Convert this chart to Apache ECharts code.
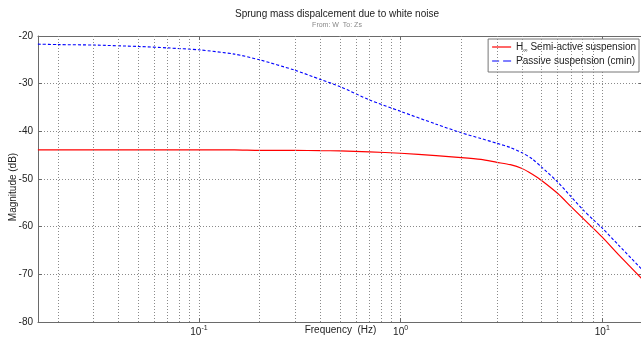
<!DOCTYPE html>
<html><head><meta charset="utf-8">
<script src="https://cdn.jsdelivr.net/npm/echarts@6/dist/echarts.min.js"></script>
<style>html,body{margin:0;padding:0;background:#fff}#c{width:641px;height:338px}</style>
</head><body><div id="c"></div>
<script>
const freqHz = [0.0159, 0.02, 0.03, 0.05, 0.07, 0.1, 0.15, 0.2, 0.3, 0.4, 0.5, 0.7, 1, 1.5, 2, 2.5, 3, 3.5, 4, 4.5, 5, 6, 7, 8, 9, 10, 12, 15.92];
const passiveDb = [-21.7, -21.8, -21.9, -22.2, -22.5, -22.9, -23.8, -25.0, -27.2, -29.1, -30.6, -33.4, -35.8, -38.5, -40.3, -41.5, -42.5, -43.4, -44.5, -45.8, -47.5, -50.6, -53.7, -56.4, -58.5, -60.3, -63.8, -69.2];
const semiActiveDb = [-43.9, -43.9, -43.9, -43.9, -43.9, -43.9, -43.9, -44.0, -44.0, -44.05, -44.1, -44.3, -44.6, -45.1, -45.5, -45.9, -46.5, -47.0, -47.8, -49.0, -50.3, -53.0, -55.8, -58.2, -60.3, -62.2, -65.8, -71.2];
const minorGridFreqs = [0.02,0.03,0.04,0.05,0.06,0.07,0.08,0.09,0.2,0.3,0.4,0.5,0.6,0.7,0.8,0.9,2,3,4,5,6,7,8,9];
const xMin = 0.01592, xMax = 15.92;
const yMin = -80, yMax = -20, yStep = 10;
const seriesNames = ['H\u221E Semi-active suspension', 'Passive suspension (cmin)'];

const gridDot = {color: '#8a8a8a', type: [1, 2], width: 1};
const axisCol = '#6a6a6a';
const font = 'Arial, "Liberation Sans", sans-serif';

const chart = echarts.init(document.getElementById('c'), null, {renderer: 'canvas'});
chart.setOption({
  animation: false,
  backgroundColor: '#fff',
  title: {
    text: 'Sprung mass dispalcement due to white noise',
    subtext: 'From: W  To: Zs',
    left: 337, textAlign: 'center', top: 8, padding: 0, itemGap: 1,
    textStyle: {fontFamily: font, fontSize: 10, fontWeight: 'normal', color: '#222', lineHeight: 12},
    subtextStyle: {fontFamily: font, fontSize: 7, color: '#888', lineHeight: 8}
  },
  legend: {
    data: [
      {name: seriesNames[0], icon: 'path://M0,0h19v1.2h-19z'},
      {name: seriesNames[1], icon: 'path://M0,0h7v1h-7z M11,0h8v1h-8z'}
    ],
    orient: 'vertical', right: 2, top: 39,
    backgroundColor: '#fff', borderColor: '#777', borderWidth: 1,
    padding: [2, 3, 5, 4], itemGap: 2, itemWidth: 19, itemHeight: 12,
    symbolKeepAspect: true,
    itemStyle: {borderWidth: 0},
    textStyle: {fontFamily: font, fontSize: 10, color: '#222', lineHeight: 12,
      rich: {
        h: {fontFamily: font, fontSize: 10, color: '#222'},
        inf: {fontFamily: font, fontSize: 6, color: '#222', padding: [6, 0, 0, 0]},
        t: {fontFamily: font, fontSize: 10, color: '#222'}
      }},
    formatter: function (name) {
      if (name === seriesNames[0]) return '{h|H}{inf|\u221E}{t| Semi-active suspension}';
      return '{t|' + name + '}';
    }
  },
  grid: {left: 38, top: 36, width: 605, height: 286, containLabel: false, outerBoundsMode: 'none'},
  xAxis: [{
    type: 'log', logBase: 10, min: xMin, max: xMax, position: 'bottom',
    name: 'Frequency  (Hz)', nameLocation: 'middle', nameGap: 3, nameMoveOverlap: false,
    nameTextStyle: {fontFamily: font, fontSize: 10, color: '#222', verticalAlign: 'top'},
    axisLine: {show: true, lineStyle: {color: axisCol, width: 1}},
    axisTick: {show: true, inside: true, length: 4, lineStyle: {color: axisCol}},
    axisLabel: {
      show: true, margin: 3, showMinLabel: false, showMaxLabel: false,
      formatter: function (v) {
        const e = Math.round(Math.log10(v));
        return '{b|10}{s|' + e + '}';
      },
      rich: {
        b: {fontFamily: font, fontSize: 10, color: '#222'},
        s: {fontFamily: font, fontSize: 7, color: '#222', padding: [0, 0, 7, 0]}
      }
    },
    splitLine: {show: true, lineStyle: gridDot}
  }, {
    type: 'log', logBase: 10, min: xMin, max: xMax, position: 'top',
    axisLine: {show: true, lineStyle: {color: axisCol, width: 1}},
    axisTick: {show: true, inside: true, length: 4, lineStyle: {color: axisCol}},
    axisLabel: {show: false}, splitLine: {show: false}
  }],
  yAxis: [{
    type: 'value', min: yMin, max: yMax, interval: yStep, position: 'left',
    name: 'Magnitude (dB)', nameLocation: 'middle', nameGap: 20, nameMoveOverlap: false,
    nameTextStyle: {fontFamily: font, fontSize: 10, color: '#222', padding: [0, 16, 0, 0]},
    axisLine: {show: true, lineStyle: {color: axisCol, width: 1}},
    axisTick: {show: true, inside: true, length: 4, lineStyle: {color: axisCol}},
    axisLabel: {fontFamily: font, fontSize: 10, color: '#222', margin: 5},
    splitLine: {show: true, lineStyle: gridDot}
  }, {
    type: 'value', min: yMin, max: yMax, interval: yStep, position: 'right',
    axisLine: {show: true, lineStyle: {color: axisCol, width: 1}},
    axisTick: {show: true, inside: true, length: 4, lineStyle: {color: axisCol}},
    axisLabel: {show: false}, splitLine: {show: false}
  }],
  series: [{
    name: 'minor-grid', type: 'line', data: [], silent: true, z: 1,
    markLine: {
      silent: true, symbol: ['none', 'none'], label: {show: false},
      lineStyle: gridDot, animation: false,
      data: minorGridFreqs.map(f => ({xAxis: f}))
    }
  }, {
    name: seriesNames[0], type: 'line', z: 3, showSymbol: false, symbol: 'none',
    smooth: 0.25,
    data: freqHz.map((f, i) => [f, semiActiveDb[i]]),
    lineStyle: {color: '#ff0000', width: 1.2}, itemStyle: {color: '#ff0000'}
  }, {
    name: seriesNames[1], type: 'line', z: 4, showSymbol: false, symbol: 'none',
    smooth: 0.25,
    data: freqHz.map((f, i) => [f, passiveDb[i]]),
    lineStyle: {color: '#0000ff', width: 1.1, type: [3, 2]}, itemStyle: {color: '#0000ff'}
  }]
});
</script></body></html>
